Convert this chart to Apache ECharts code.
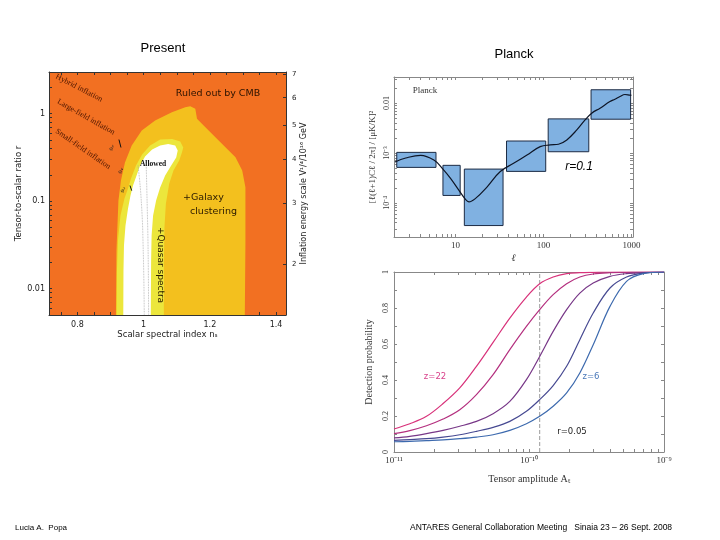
<!DOCTYPE html>
<html><head><meta charset="utf-8">
<script src="https://cdn.jsdelivr.net/npm/echarts@6/dist/echarts.min.js"></script>
<style>html,body{margin:0;padding:0;background:#fff}#c{width:720px;height:540px}</style>
</head><body><div id="c"></div>
<script>
// ---------- Left panel: "Present" (ns, r) constraints ----------
const nsLabelTicks = [0.8, 1.0, 1.2, 1.4];
const nsMinorTicks = [0.75, 0.8, 0.85, 0.9, 0.95, 1.0, 1.05, 1.1, 1.15, 1.2, 1.25, 1.3, 1.35, 1.4];
const rLabelTicks = [0.01, 0.1, 1];
const rMinorTicks = [0.005,0.006,0.007,0.008,0.009,0.01,0.02,0.03,0.04,0.05,0.06,0.07,0.08,0.09,0.1,0.2,0.3,0.4,0.5,0.6,0.7,0.8,0.9,1,2,3];
const vLabelTicks = [2, 3, 4, 5, 6, 7];

const galaxyNs = [0.9162,0.9178,0.9238,0.9314,0.9435,0.9639,0.9942,1.0346,1.0853,1.1256,1.1408,1.156,1.1611,1.1812,1.2167,1.247,1.2774,1.2977,1.3074,1.3074,1.3056];
const galaxyR  = [0.005,0.02735,0.1019,0.1724,0.2769,0.4335,0.643,0.836,1.04,1.186,1.218,1.137,0.875,0.733,0.538,0.414,0.318,0.2244,0.1445,0.0326,0.005];

const quasarNs = [0.9184,0.9193,0.9223,0.9299,0.9420,0.9527,0.9618,0.9769,0.9951,1.0194,1.0498,1.0862,1.1105,1.1196,1.1156,1.1074,1.0901,1.0771,1.0671,1.0628,1.0610,1.0610];
const quasarR  = [0.005,0.01614,0.0356,0.0687,0.1074,0.1396,0.1817,0.256,0.342,0.4335,0.507,0.514,0.4813,0.411,0.3607,0.2917,0.2244,0.158,0.0933,0.0505,0.0210,0.005];

const allowedNs = [0.9384,0.9390,0.9405,0.9451,0.9527,0.9602,0.9678,0.9785,0.9891,1.0042,1.0255,1.0498,1.0741,1.0953,1.1029,1.0983,1.0832,1.0649,1.0498,1.0376,1.0285,1.0240,1.0225,1.0215];
const allowedR  = [0.005,0.01614,0.0312,0.0527,0.0826,0.1162,0.151,0.1967,0.256,0.3243,0.390,0.4335,0.451,0.4335,0.380,0.3155,0.256,0.1967,0.1434,0.1019,0.0687,0.0406,0.0210,0.005];

const dot1Ns = [0.983, 0.9927, 0.9987, 1.0018];
const dot1R  = [0.256, 0.1019, 0.02735, 0.005];
const dot2Ns = [1.0073, 1.0103, 1.0134, 1.0149];
const dot2R  = [0.2917, 0.1019, 0.02735, 0.005];
const seg1Ns = [0.9253, 0.9314];
const seg1R  = [0.507, 0.411];
const seg2Ns = [0.9587, 0.9639];
const seg2R  = [0.151, 0.132];

// ---------- Top right: Planck B-mode bins ----------
const ellLabelTicks = [10, 100, 1000];
const ellMinorTicks = [2,3,4,5,6,7,8,9,10,20,30,40,50,60,70,80,90,100,200,300,400,500,600,700,800,900,1000];
const clLabelTicks = [1e-4, 1e-3, 1e-2];
const clMinorTicks = [3e-5,4e-5,5e-5,6e-5,7e-5,8e-5,9e-5,1e-4,2e-4,3e-4,4e-4,5e-4,6e-4,7e-4,8e-4,9e-4,1e-3,2e-3,3e-3,4e-3,5e-3,6e-3,7e-3,8e-3,9e-3,1e-2,2e-2,3e-2];
const binLo  = [2.15, 7.2, 12.6, 38, 113, 347];
const binHi  = [6.0, 11.3, 34.7, 106, 327, 977];
const binMin = [5.15e-4, 1.41e-4, 3.51e-5, 4.28e-4, 1.06e-3, 4.76e-3];
const binMax = [1.03e-3, 5.66e-4, 4.76e-4, 1.74e-3, 4.83e-3, 1.854e-2];
const ell   = [2.05, 2.72, 4.02, 5.68, 7.07, 8.78, 10.9, 13.0, 14.2, 16.9, 22.9, 32.3, 45.7, 64.9, 91.8, 119, 148, 184, 239, 297, 353, 439, 569, 648, 739, 842, 959, 1000];
const clBB  = [6.6e-4, 7.93e-4, 9.0e-4, 7.23e-4, 4.92e-4, 3.10e-4, 1.80e-4, 1.17e-4, 1.05e-4, 1.23e-4, 2.10e-4, 4.25e-4, 6.21e-4, 9.12e-4, 1.34e-3, 1.45e-3, 1.50e-3, 1.83e-3, 2.90e-3, 4.61e-3, 6.29e-3, 7.93e-3, 1.076e-2, 1.20e-2, 1.36e-2, 1.49e-2, 1.45e-2, 1.44e-2];

// ---------- Bottom right: detection probability ----------
const ampLabelTicks = [1e-11, 1e-10, 1e-9];
const ampMinorTicks = [1e-11,2e-11,3e-11,4e-11,5e-11,6e-11,7e-11,8e-11,9e-11,1e-10,2e-10,3e-10,4e-10,5e-10,6e-10,7e-10,8e-10,9e-10,1e-9];
const probLabelTicks = [0, 0.2, 0.4, 0.6, 0.8, 1];
const probMinorTicks = [0,0.1,0.2,0.3,0.4,0.5,0.6,0.7,0.8,0.9,1];
const amp   = [1e-11,1.31e-11,1.74e-11,2.31e-11,3.07e-11,4.08e-11,5.42e-11,7.21e-11,9.57e-11,1.20e-10,1.51e-10,1.90e-10,2.38e-10,2.99e-10,3.98e-10,5.28e-10,7.03e-10,1e-9];
const pZ22  = [0.128,0.157,0.198,0.269,0.356,0.476,0.609,0.744,0.861,0.935,0.972,0.991,0.996,0.998,1,1,1,1];
const pZb   = [0.102,0.119,0.146,0.183,0.235,0.319,0.430,0.569,0.698,0.791,0.874,0.935,0.972,0.989,0.996,0.998,1,1];
const pZc   = [0.078,0.087,0.102,0.120,0.143,0.170,0.213,0.281,0.402,0.531,0.670,0.791,0.883,0.939,0.976,0.991,0.996,1];
const pZd   = [0.065,0.069,0.074,0.083,0.096,0.115,0.137,0.170,0.226,0.291,0.369,0.476,0.624,0.772,0.911,0.972,0.994,1];
const pZ6   = [0.057,0.059,0.063,0.067,0.074,0.083,0.096,0.120,0.157,0.198,0.254,0.328,0.439,0.596,0.809,0.948,0.991,1];
const ampMarker = [1.2e-10, 1.2e-10];
const ampMarkerP = [0, 1];

// ---------- styling ----------
const SANS = 'DejaVu Sans', SERIF = 'Liberation Serif', ARIAL = 'Liberation Sans';
const zip = (a, b) => a.map((v, i) => [v, b[i]]);
const sup = {'-':'⁻','0':'⁰','1':'¹','2':'²','3':'³','4':'⁴','5':'⁵','6':'⁶','7':'⁷','8':'⁸','9':'⁹'};
const pow10 = v => '10' + String(Math.round(Math.log10(v))).split('').map(c => sup[c]).join('');

function ax(o) {
  const frame = o.frame || '#333';
  const base = {
    splitLine: {show: false},
    axisLine: {show: true, onZero: false, lineStyle: {color: frame, width: 1}},
    axisTick: {show: true, inside: true, length: 3, customValues: o.ticks, lineStyle: {color: frame}},
    axisLabel: o.labels ? Object.assign({show: true, customValues: o.labels}, o.labelStyle) : {show: false},
    nameTextStyle: o.nameStyle,
  };
  delete o.frame; delete o.ticks; delete o.labels; delete o.labelStyle; delete o.nameStyle;
  return Object.assign(base, o);
}

function polygon(nsArr, rArr, color) {
  return {
    type: 'custom', xAxisIndex: 0, yAxisIndex: 0, clip: true, silent: true,
    data: [[nsArr[0], rArr[0]]],
    renderItem: (params, api) => ({
      type: 'polygon',
      shape: {points: nsArr.map((n, i) => api.coord([n, rArr[i]]))},
      style: {fill: color}
    })
  };
}
function line(xi, yi, data, color, width, type, smooth) {
  return {type: 'line', xAxisIndex: xi, yAxisIndex: yi, data, showSymbol: false, symbol: 'none',
    smooth: smooth || false, silent: true, lineStyle: {color, width, type: type || 'solid'}};
}

const chart = echarts.init(document.getElementById('c'), null, {renderer: 'canvas'});
const leftLbl = {fontFamily: SANS, fontSize: 8, color: '#222'};
const planckLbl = {fontFamily: SERIF, fontSize: 9, color: '#333'};

const option = {
  animation: false,
  backgroundColor: '#fff',
  grid: [
    {left: 49, top: 72, width: 237, height: 243, show: true, backgroundColor: '#f27022', borderWidth: 0},
    {left: 394, top: 77, width: 239, height: 160},
    {left: 394, top: 272, width: 270, height: 180},
  ],
  xAxis: [
    ax({gridIndex: 0, type: 'value', position: 'bottom', min: 0.714, max: 1.43, ticks: nsMinorTicks, labels: nsLabelTicks,
        labelStyle: Object.assign({margin: 6, formatter: v => (Math.abs(v - 1) < 1e-6 ? '1' : String(+v.toFixed(1)))}, leftLbl),
        name: 'Scalar spectral index nₛ', nameLocation: 'middle', nameGap: 15, nameStyle: {fontFamily: SANS, fontSize: 8.5, color: '#222'}}),
    ax({gridIndex: 0, type: 'value', position: 'top', min: 0.714, max: 1.43, ticks: nsMinorTicks}),
    ax({gridIndex: 1, type: 'log', position: 'bottom', min: 2, max: 1040, frame: '#888', ticks: ellMinorTicks, labels: ellLabelTicks,
        labelStyle: Object.assign({margin: 4, formatter: v => String(Math.round(v))}, planckLbl),
        name: 'ℓ', nameLocation: 'middle', nameGap: 16, nameStyle: {fontFamily: SERIF, fontStyle: 'italic', fontSize: 10, color: '#333'}}),
    ax({gridIndex: 1, type: 'log', position: 'top', min: 2, max: 1040, frame: '#888', ticks: ellMinorTicks}),
    ax({gridIndex: 2, type: 'log', position: 'bottom', min: 1e-11, max: 1e-9, frame: '#888', ticks: ampMinorTicks, labels: ampLabelTicks,
        labelStyle: Object.assign({margin: 4, formatter: v => pow10(v)}, planckLbl),
        name: 'Tensor amplitude Aₜ', nameLocation: 'middle', nameGap: 22, nameStyle: {fontFamily: SERIF, fontSize: 10, color: '#333'}}),
    ax({gridIndex: 2, type: 'log', position: 'top', min: 1e-11, max: 1e-9, frame: '#888', ticks: ampMinorTicks}),
  ],
  yAxis: [
    ax({gridIndex: 0, type: 'log', position: 'left', min: 0.005, max: 3, ticks: rMinorTicks, labels: rLabelTicks,
        labelStyle: Object.assign({margin: 4, formatter: v => (Math.abs(v - 1) < 1e-6 ? '1' : (Math.abs(v - 0.1) < 1e-6 ? '0.1' : '0.01'))}, leftLbl),
        name: 'Tensor-to-scalar ratio r', nameLocation: 'middle', nameGap: 24, nameRotate: 90, nameStyle: {fontFamily: SANS, fontSize: 8.5, color: '#222'}}),
    ax({gridIndex: 0, type: 'log', position: 'right', min: 1.436, max: 7.107, ticks: vLabelTicks, labels: vLabelTicks,
        labelStyle: Object.assign({margin: 6, formatter: v => String(Math.round(v))}, leftLbl, {fontSize: 7}),
        name: 'Inflation energy scale V¹/⁴/10¹⁶ GeV', nameLocation: 'middle', nameGap: 13, nameRotate: 90, nameStyle: {fontFamily: SANS, fontSize: 8, color: '#222'}}),
    ax({gridIndex: 1, type: 'log', position: 'left', min: 2.07e-5, max: 0.0334, frame: '#888', ticks: clMinorTicks, labels: clLabelTicks,
        labelStyle: Object.assign({margin: 3, rotate: 90, formatter: v => (Math.round(Math.log10(v)) === -2 ? '0.01' : pow10(v))}, planckLbl, {fontSize: 8}),
        name: '[ℓ(ℓ+1)Cℓ / 2π] / [μK/K]²', nameLocation: 'middle', nameGap: 17, nameRotate: 90, nameStyle: {fontFamily: SERIF, fontSize: 9, color: '#333'}}),
    ax({gridIndex: 1, type: 'log', position: 'right', min: 2.07e-5, max: 0.0334, frame: '#888', ticks: clMinorTicks}),
    ax({gridIndex: 2, type: 'value', position: 'left', min: 0, max: 1, interval: 0.2, frame: '#888', ticks: probMinorTicks,
        labelStyle: Object.assign({margin: 4, rotate: 90}, planckLbl, {fontSize: 8}), labels: probLabelTicks,
        name: 'Detection probability', nameLocation: 'middle', nameGap: 20, nameRotate: 90, nameStyle: {fontFamily: SERIF, fontSize: 10, color: '#333'}}),
    ax({gridIndex: 2, type: 'value', position: 'right', min: 0, max: 1, interval: 0.2, frame: '#888', ticks: probMinorTicks}),
  ],
  series: [
    polygon(galaxyNs, galaxyR, '#f3c01e'),
    polygon(quasarNs, quasarR, '#ece63c'),
    polygon(allowedNs, allowedR, '#ffffff'),
    line(0, 0, zip(dot1Ns, dot1R), '#aaaaaa', 0.8, 'dotted', true),
    line(0, 0, zip(dot2Ns, dot2R), '#aaaaaa', 0.8, 'dotted', true),
    line(0, 0, zip(seg1Ns, seg1R), '#111', 1),
    line(0, 0, zip(seg2Ns, seg2R), '#111', 1),
    {
      type: 'custom', xAxisIndex: 2, yAxisIndex: 2, silent: true,
      data: binLo.map((l, i) => [l, binHi[i], binMin[i], binMax[i]]),
      encode: {x: [0, 1], y: [2, 3]},
      renderItem: (params, api) => {
        const p0 = api.coord([api.value(0), api.value(3)]);
        const p1 = api.coord([api.value(1), api.value(2)]);
        return {type: 'rect', shape: {x: p0[0], y: p0[1], width: p1[0] - p0[0], height: p1[1] - p0[1]},
          style: {fill: '#80b1e1', stroke: '#1c2b44', lineWidth: 1}};
      }
    },
    line(2, 2, zip(ell, clBB), '#0d1526', 1.2, 'solid', 0.4),
    line(4, 4, zip(ampMarker, ampMarkerP), '#9a9a9a', 1, 'dashed'),
    line(4, 4, zip(amp, pZ22), '#d8327a', 1.2, 'solid', 0.35),
    line(4, 4, zip(amp, pZb), '#b4307f', 1.2, 'solid', 0.35),
    line(4, 4, zip(amp, pZc), '#783888', 1.2, 'solid', 0.35),
    line(4, 4, zip(amp, pZd), '#474a92', 1.2, 'solid', 0.35),
    line(4, 4, zip(amp, pZ6), '#3d6aae', 1.2, 'solid', 0.35),
  ],
  graphic: [
    {type: 'text', x: 163, y: 48, style: {text: 'Present', fontFamily: ARIAL, fontSize: 13, fill: '#000', align: 'center', verticalAlign: 'middle'}},
    {type: 'text', x: 514, y: 54, style: {text: 'Planck', fontFamily: ARIAL, fontSize: 13, fill: '#000', align: 'center', verticalAlign: 'middle'}},
    {type: 'text', x: 15, y: 528, style: {text: 'Lucia A.  Popa', fontFamily: ARIAL, fontSize: 8, fill: '#000', align: 'left', verticalAlign: 'middle'}},
    {type: 'text', x: 410, y: 528, style: {text: 'ANTARES General Collaboration Meeting   Sinaia 23 – 26 Sept. 2008', fontFamily: ARIAL, fontSize: 8.5, fill: '#000', align: 'left', verticalAlign: 'middle'}},
    {type: 'text', x: 218, y: 94, z: 100, style: {text: 'Ruled out by CMB', fontFamily: SANS, fontSize: 9.5, fill: '#2a1200', align: 'center', verticalAlign: 'middle'}},
    {type: 'text', x: 79, y: 88, rotation: -0.476, z: 100, style: {text: 'Hybrid inflation', fontFamily: SERIF, fontSize: 8, fill: '#4a1500', align: 'center', verticalAlign: 'middle'}},
    {type: 'text', x: 86, y: 117, rotation: -0.515, z: 100, style: {text: 'Large-field inflation', fontFamily: SERIF, fontSize: 8, fill: '#4a1500', align: 'center', verticalAlign: 'middle'}},
    {type: 'text', x: 83, y: 149, rotation: -0.607, z: 100, style: {text: 'Small-field inflation', fontFamily: SERIF, fontSize: 8, fill: '#4a1500', align: 'center', verticalAlign: 'middle'}},
    {type: 'text', x: 112, y: 148, rotation: 0.5, z: 100, style: {text: 'φ⁶', fontFamily: SERIF, fontSize: 6, fill: '#222', align: 'center', verticalAlign: 'middle'}},
    {type: 'text', x: 121, y: 171, rotation: 0.5, z: 100, style: {text: 'φ⁴', fontFamily: SERIF, fontSize: 6, fill: '#222', align: 'center', verticalAlign: 'middle'}},
    {type: 'text', x: 123, y: 190, rotation: 0.5, z: 100, style: {text: 'φ²', fontFamily: SERIF, fontSize: 6, fill: '#222', align: 'center', verticalAlign: 'middle'}},
    {type: 'text', x: 153, y: 164, z: 100, style: {text: 'Allowed', fontFamily: SERIF, fontSize: 7.5, fontWeight: 'bold', fill: '#111', align: 'center', verticalAlign: 'middle'}},
    {type: 'text', x: 183, y: 198, z: 100, style: {text: '+Galaxy', fontFamily: SANS, fontSize: 9.5, fill: '#2a1a00', align: 'left', verticalAlign: 'middle'}},
    {type: 'text', x: 190, y: 212, z: 100, style: {text: 'clustering', fontFamily: SANS, fontSize: 9.5, fill: '#2a1a00', align: 'left', verticalAlign: 'middle'}},
    {type: 'text', x: 160.5, y: 265, rotation: -Math.PI / 2, z: 100, style: {text: '+Quasar spectra', fontFamily: SANS, fontSize: 9, fill: '#2a1a00', align: 'center', verticalAlign: 'middle'}},
    {type: 'text', x: 425, y: 91, z: 100, style: {text: 'Planck', fontFamily: SERIF, fontSize: 9, fill: '#333', align: 'center', verticalAlign: 'middle'}},
    {type: 'text', x: 579, y: 167, z: 100, style: {text: 'r=0.1', fontFamily: ARIAL, fontStyle: 'italic', fontSize: 12, fill: '#000', align: 'center', verticalAlign: 'middle'}},
    {type: 'text', x: 435, y: 377, z: 100, style: {text: 'z=22', fontFamily: SANS, fontSize: 8.5, fill: '#d8408a', align: 'center', verticalAlign: 'middle'}},
    {type: 'text', x: 591, y: 377, z: 100, style: {text: 'z=6', fontFamily: SANS, fontSize: 8.5, fill: '#4a78b8', align: 'center', verticalAlign: 'middle'}},
    {type: 'text', x: 572, y: 432, z: 100, style: {text: 'r=0.05', fontFamily: SANS, fontSize: 8.5, fill: '#222', align: 'center', verticalAlign: 'middle'}},
  ]
};
chart.setOption(option);
</script>
</body></html>
